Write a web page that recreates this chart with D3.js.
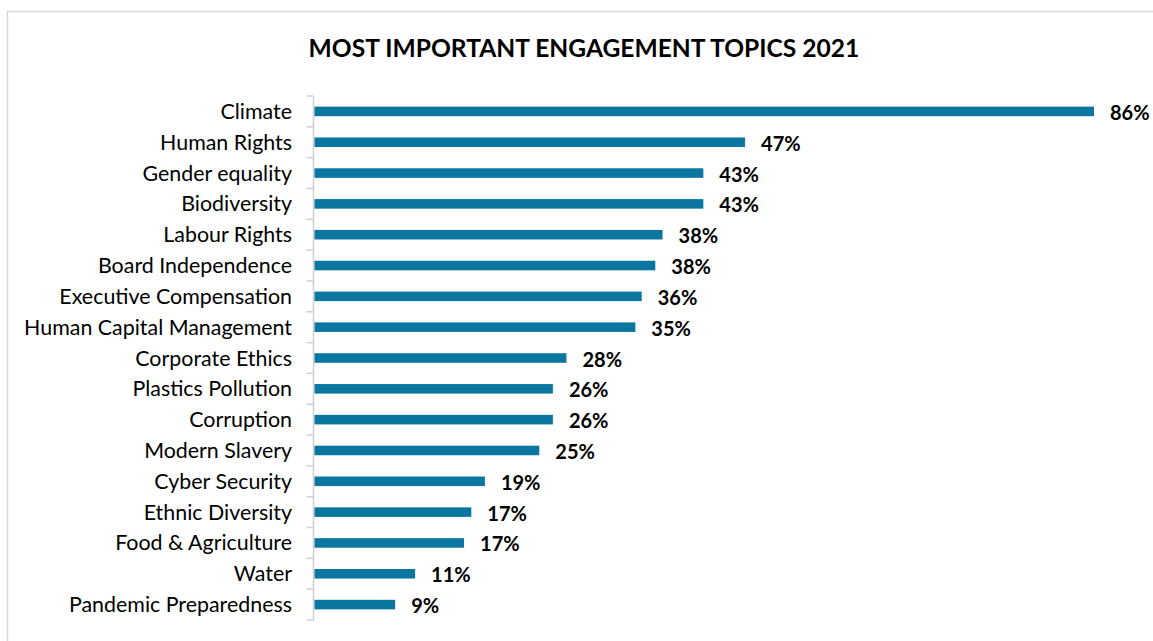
<!DOCTYPE html>
<html>
<head>
<meta charset="utf-8">
<script src="https://cdn.jsdelivr.net/npm/d3@7"></script>
<style>
  body { margin: 0; background: #fff; }
  text { font-family: Lato, "Open Sans", sans-serif; fill: #000; }
</style>
</head>
<body>
<script>
// chart data (bar lengths estimated, labels as printed)
var topics = ['Climate', 'Human Rights', 'Gender equality', 'Biodiversity', 'Labour Rights',
    'Board Independence', 'Executive Compensation', 'Human Capital Management', 'Corporate Ethics',
    'Plastics Pollution', 'Corruption', 'Modern Slavery', 'Cyber Security', 'Ethnic Diversity',
    'Food & Agriculture', 'Water', 'Pandemic Preparedness']
var values = [86, 47.5, 42.9, 42.9, 38.4, 37.6, 36.1, 35.4, 27.8, 26.3, 26.3, 24.8, 18.8, 17.3, 16.5, 11.1, 8.9]
var valueLabels = ['86%', '47%', '43%', '43%', '38%', '38%', '36%', '35%', '28%', '26%', '26%', '25%',
    '19%', '17%', '17%', '11%', '9%']
var title = 'MOST IMPORTANT ENGAGEMENT TOPICS 2021'

var width = 1153
var height = 641

var svg = d3.select('body').append('svg')
    .attr('width', width)
    .attr('height', height)

// light frame around the chart area
svg.append('rect')
    .attr('x', 7.5)
    .attr('y', 11.5)
    .attr('width', 1300)
    .attr('height', 800)
    .attr('fill', 'none')
    .attr('stroke', '#d9d9d9')
    .attr('stroke-width', 1.5)

svg.append('text')
    .attr('x', 584)
    .attr('y', 57)
    .attr('text-anchor', 'middle')
    .style('font-size', '24.6px')
    .style('font-weight', 'bold')
    .text(title)

// scales
var x = d3.scaleLinear()
    .domain([0, 86])
    .range([314.5, 1094])

var y = d3.scaleBand()
    .domain(topics)
    .range([96, 620])
    .paddingInner(0.69)
    .paddingOuter(0.345)

var step = y.step()
var rows = topics.map(function(t, i){ return {topic: t, value: values[i], label: valueLabels[i]} })

// category axis: grey line with ticks between categories
var axis = svg.append('g').attr('class', 'y axis')
axis.append('line')
    .attr('x1', 313.5).attr('x2', 313.5)
    .attr('y1', y.range()[0]).attr('y2', y.range()[1])
    .attr('stroke', '#d0d0d0')
    .attr('stroke-width', 1.5)

var boundaries = topics.map(function(t){ return y(t) - step * y.paddingOuter() })
boundaries.push(y.range()[1])
axis.selectAll('.tick')
    .data(boundaries)
    .enter().append('line')
    .attr('class', 'tick')
    .attr('x1', 306.5).attr('x2', 313.5)
    .attr('y1', function(d){ return d }).attr('y2', function(d){ return d })
    .attr('stroke', '#d0d0d0')
    .attr('stroke-width', 1.5)

axis.selectAll('.cat')
    .data(rows)
    .enter().append('text')
    .attr('class', 'cat')
    .attr('x', 292)
    .attr('y', function(d){ return y(d.topic) + y.bandwidth() / 2 + 7.5 })
    .attr('text-anchor', 'end')
    .style('font-size', '21.4px')
    .text(function(d){ return d.topic })

// bars
svg.selectAll('.bar')
    .data(rows)
    .enter().append('rect')
    .attr('class', 'bar')
    .attr('x', x(0))
    .attr('y', function(d){ return y(d.topic) })
    .attr('width', function(d){ return x(d.value) - x(0) })
    .attr('height', y.bandwidth())
    .attr('fill', '#0b77a0')

// value labels
svg.selectAll('.val')
    .data(rows)
    .enter().append('text')
    .attr('class', 'val')
    .attr('x', function(d){ return x(d.value) + 16 })
    .attr('y', function(d){ return y(d.topic) + y.bandwidth() / 2 + 8.5 })
    .style('font-size', '20px')
    .style('font-weight', 'bold')
    .text(function(d){ return d.label })
</script>
</body>
</html>
